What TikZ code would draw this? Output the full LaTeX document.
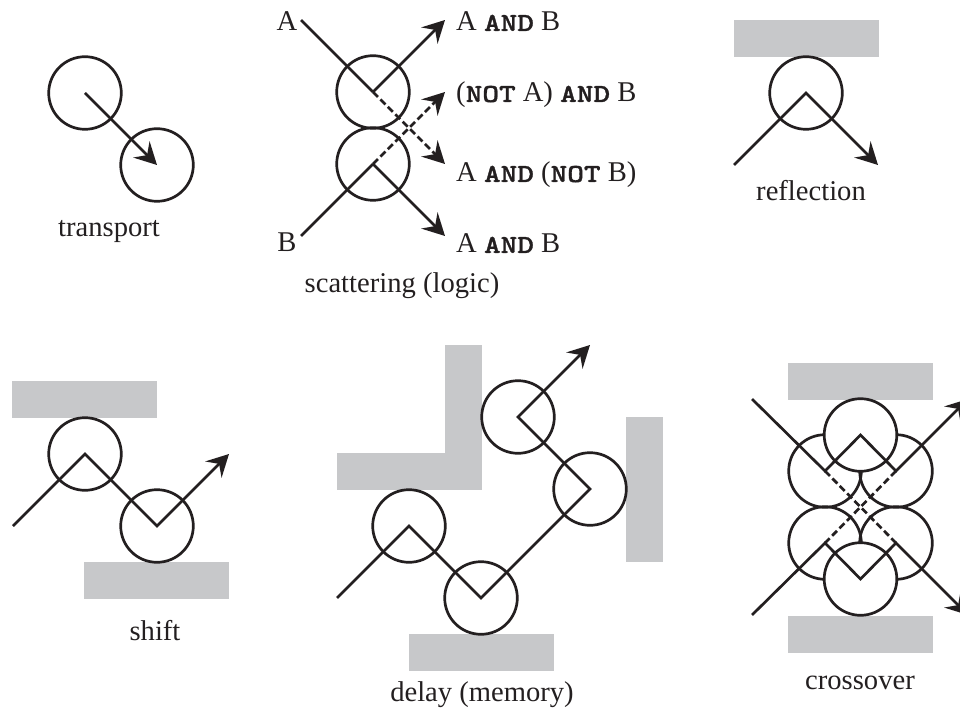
\documentclass[tikz,border=0pt]{standalone}
\usepackage{fontspec}
\setmainfont{Liberation Serif}
\newfontfamily\logicfont[FakeStretch=1.22,FakeBold=1.2]{Latin Modern Mono Light}
\usetikzlibrary{arrows.meta}
\definecolor{ink}{HTML}{231F20}
\definecolor{plate}{HTML}{C7C8CA}
\newcommand{\logicop}[1]{{\fontsize{26}{33}\logicfont\bfseries #1}}
\tikzset{
	disk/.style={circle,draw=ink,line width=2.7pt,minimum size=72.6pt,inner sep=0pt},
	hplate/.style={rectangle,fill=plate,minimum width=145pt,minimum height=37pt,inner sep=0pt},
	vplate/.style={rectangle,fill=plate,minimum width=37pt,minimum height=145pt,inner sep=0pt},
	ray/.style={draw=ink,line width=2.7pt},
	rayhead/.style={ray,-{Stealth[length=22pt,width=23pt,inset=8pt]}},
	dashray/.style={rayhead,dash pattern=on 7pt off 3.5pt},
	textlabel/.style={text=ink,font=\fontsize{28.6}{33}\selectfont,anchor=base,inner sep=0pt}
}
\begin{document}
\begin{tikzpicture}[x=1pt,y=-1pt]
	\useasboundingbox (0,0) rectangle (960,708);

	% plates
	\foreach \n/\x/\y in {r/806.5/38.5,sa/84.5/399.5,sb/156.5/580.5,da/481.5/652.5,ca/860.5/381.5,cb/860.5/634.5}
	\node[hplate] (plate\n) at (\x,\y) {};
	\foreach \n/\x/\y in {db/463.5/417.5,dc/644.5/489.5}
	\node[vplate] (plate\n) at (\x,\y) {};
	\node[hplate] (platedd) at (409.5,471.5) {};

	% transport
	\node[disk] (ta) at (85,93) {};
	\node[disk] (tb) at (157,165) {};
	\draw[rayhead] (ta.center) -- (tb.center);
	\node[textlabel] (ttext) at (109,237) {transport};

	% scattering
	\node[disk] (sa) at (373,92) {};
	\node[disk] (sb) at (373,164) {};
	\coordinate (ain) at (301,20);
	\coordinate (bin) at (301,236);
	\coordinate (out1) at (445,20);
	\coordinate (out2) at (445,92);
	\coordinate (out3) at (445,164);
	\coordinate (out4) at (445,236);
	\draw[dashray] (sa.center) -- (out3);
	\draw[dashray] (sb.center) -- (out2);
	\draw[ray] (ain) -- (sa.center);
	\draw[ray] (bin) -- (sb.center);
	\draw[rayhead] (sa.center) -- (out1);
	\draw[rayhead] (sb.center) -- (out4);
	\node[textlabel] (atext) at (287,31) {A};
	\node[textlabel] (btext) at (287,252) {B};
	\node[textlabel,anchor=base west] (l1) at (456,31) {A \logicop{AND} B};
	\node[textlabel,anchor=base west] (l2) at (456,102) {(\logicop{NOT} A) \logicop{AND} B};
	\node[textlabel,anchor=base west] (l3) at (456,182) {A \logicop{AND} (\logicop{NOT} B)};
	\node[textlabel,anchor=base west] (l4) at (456,253) {A \logicop{AND} B};
	\node[textlabel] (stext) at (402,293) {scattering (logic)};

	% reflection
	\node[disk] (ra) at (806,93) {};
	\coordinate (rin) at (734,165);
	\coordinate (rout) at (878,165);
	\draw[rayhead] (rin) -- (ra.center) -- (rout);
	\node[textlabel] (rtext) at (811,201) {reflection};

	% shift
	\node[disk] (fa) at (85,454) {};
	\node[disk] (fb) at (157,526) {};
	\coordinate (fin) at (13,526);
	\coordinate (fout) at (229,454);
	\draw[rayhead] (fin) -- (fa.center) -- (fb.center) -- (fout);
	\node[textlabel] (ftext) at (155,640) {shift};

	% delay
	\node[disk] (ma) at (409,526) {};
	\node[disk] (mb) at (481,598) {};
	\node[disk] (mc) at (590,489) {};
	\node[disk] (md) at (518,417) {};
	\coordinate (min) at (337,598);
	\coordinate (mout) at (590,345);
	\draw[rayhead] (min) -- (ma.center) -- (mb.center) -- (mc.center) -- (md.center) -- (mout);
	\node[textlabel] (mtext) at (482,701.5) {delay (memory)};

	% crossover
	\foreach \n/\x/\y in {cl/825/471,cr/896/471,dl/825/543,dr/896/543}
	\node[disk] (\n) at (\x,\y) {};
	\node[disk,fill=white] (ct) at (860.5,435) {};
	\node[disk,fill=white] (cb) at (860.5,579) {};
	\coordinate (cina) at (752,399);
	\coordinate (cinb) at (752,615);
	\coordinate (couta) at (968,399);
	\coordinate (coutb) at (968,615);
	\draw[ray,dash pattern=on 7pt off 3.5pt] (cl.center) -- (dr.center);
	\draw[ray,dash pattern=on 7pt off 3.5pt] (cr.center) -- (dl.center);
	\draw[rayhead] (cina) -- (cl.center) -- (ct.center) -- (cr.center) -- (couta);
	\draw[rayhead] (cinb) -- (dl.center) -- (cb.center) -- (dr.center) -- (coutb);
	\node[textlabel] (ctext) at (860,689) {crossover};
\end{tikzpicture}
\end{document}
